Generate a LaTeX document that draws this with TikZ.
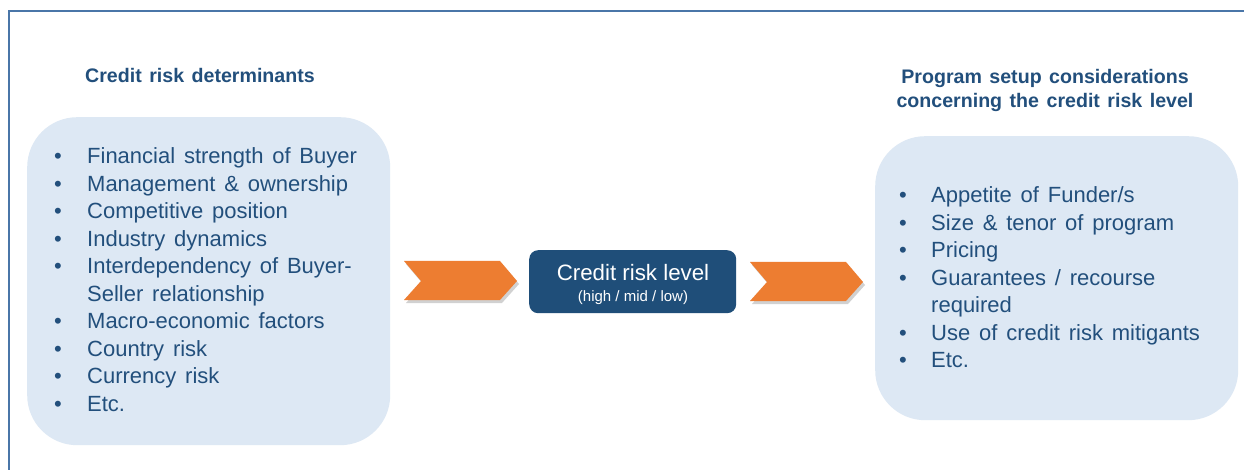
\documentclass[tikz,border=0pt]{standalone}
\usepackage{fontspec}
\setmainfont{Liberation Sans}
\definecolor{navy}{HTML}{1F4E79}
\definecolor{txtblue}{HTML}{224F7C}
\definecolor{framecol}{HTML}{4A76A8}
\definecolor{lightfill}{HTML}{DDE8F4}
\definecolor{orangec}{HTML}{ED7D31}
\newcommand{\wideskip}[1]{\spaceskip=#1 plus 1pt\relax}
\tikzset{
  panel/.style={fill=lightfill, draw=none, rounded corners=50pt},
  centerbox/.style={fill=navy, draw=none, rounded corners=9pt},
  chevron/.style={fill=orangec, draw=none},
  chevshadow/.style={fill=black!18, draw=none},
  title/.style={inner sep=0pt, text=txtblue, font=\fontsize{19.6}{24}\selectfont\bfseries\wideskip{7.5pt}, align=center},
  listtext/.style={inner sep=0pt, text=txtblue, anchor=base west}
}
\newcommand{\bl}{\makebox[33pt][l]{\textbullet}}
\newcommand{\br}{\makebox[32pt][l]{\textbullet}}
\begin{document}
\begin{tikzpicture}[x=1pt,y=-1pt]
\useasboundingbox (0,0) rectangle (1244,470);
\fill[white] (0,0) rectangle (1244,470);
% frame
\draw[framecol, line width=1.3pt] (9,470) -- (9,11) -- (1244,11);
% panels
\node[panel, minimum width=363pt, minimum height=328pt, anchor=north west] (left) at (27,117) {};
\node[panel, minimum width=363pt, minimum height=284pt, anchor=north west] (right) at (875,136) {};
% titles
\node[title, anchor=base] (ltitle) at (200,83) {Credit risk determinants};
\node[title, anchor=base] (rtitle) at (1045,108) {Program setup considerations\\concerning the credit risk level};
% lists
\node[listtext] (llist) at (54,164) {\fontsize{22}{27.5}\selectfont\wideskip{8.8pt}%
\begin{tabular}[t]{@{}l@{}l@{}}
\bl & Financial strength of Buyer\\
\bl & Management \& ownership\\
\bl & Competitive position\\
\bl & Industry dynamics\\
\bl & Interdependency of Buyer-\\
 & Seller relationship\\
\bl & Macro-economic factors\\
\bl & Country risk\\
\bl & Currency risk\\
\bl & Etc.
\end{tabular}};
\node[listtext] (rlist) at (899,203) {\fontsize{22}{27.5}\selectfont\wideskip{8.8pt}%
\begin{tabular}[t]{@{}l@{}l@{}}
\br & Appetite of Funder/s\\
\br & Size \& tenor of program\\
\br & Pricing\\
\br & Guarantees / recourse\\
 & required\\
\br & Use of credit risk mitigants\\
\br & Etc.
\end{tabular}};
% center box
\node[centerbox, minimum width=207pt, minimum height=63pt, anchor=north west] (mid) at (529,250) {};
\node[inner sep=0pt, text=white, anchor=base, font=\fontsize{22.3}{24}\selectfont] (midt) at (633,280) {Credit risk level};
\node[inner sep=0pt, text=white, anchor=base, font=\fontsize{15}{16}\selectfont] (mids) at (633,301) {(high / mid / low)};
% chevrons
\coordinate (c1) at (404,261);
\coordinate (c2) at (750,262);
\foreach \c in {c1,c2}{
  \fill[chevshadow] ([shift={(2,3)}]\c) -- ++(96,0) -- ++(17,20) -- ++(-17,19) -- ++(-96,0) -- ++(17,-19) -- cycle;
  \fill[chevron] (\c) -- ++(96,0) -- ++(17,20) -- ++(-17,19) -- ++(-96,0) -- ++(17,-19) -- cycle;
}
\end{tikzpicture}
\end{document}
